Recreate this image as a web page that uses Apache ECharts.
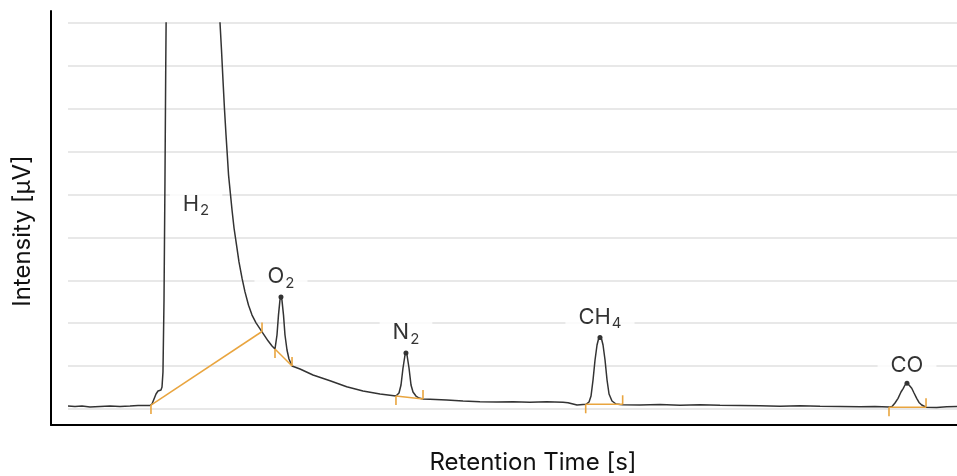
<!DOCTYPE html>
<html>
<head>
<meta charset="utf-8">
<script src="https://cdn.jsdelivr.net/npm/echarts@6/dist/echarts.min.js"></script>
<style>
html, body { margin: 0; padding: 0; background: #fff; }
#chart { width: 957px; height: 476px; }
</style>
</head>
<body>
<div id="chart"></div>
<script>
// 保留时间 [s]
const timeS = [
    0, 0.94, 1.89, 2.97, 4.32, 5.67, 7.02, 8.37, 9.45, 10.39, 11.07,
    11.34, 11.61, 11.88, 12.15, 12.55, 12.69, 12.82, 12.96, 13.09, 13.20, 13.27,
    16.7,
    20.44, 20.52, 20.72, 20.92, 21.13, 21.33, 21.46, 21.67, 21.87, 22.14, 22.41,
    22.75, 23.08, 23.49, 23.89, 24.37, 24.84, 25.38, 25.92, 26.46, 27.00, 27.54, 27.94,
    28.21, 28.41, 28.61, 28.75, 28.88, 29.09, 29.29, 29.56, 29.83, 30.24,
    31.32, 33.07, 35.37, 37.62, 39.82, 42.12, 44.27,
    44.68, 44.95, 45.22, 45.49, 45.62, 45.76, 46.03, 46.30, 46.57, 46.97, 47.38, 47.92,
    48.86, 51.12, 53.32, 55.61, 57.87, 60.07, 62.36, 64.62, 66.82, 67.49, 68.71,
    69.92, 70.33, 70.60, 70.87, 71.14, 71.41, 71.61, 71.81, 72.02, 72.22, 72.49,
    72.76, 73.03, 73.43, 73.97, 74.51, 74.92,
    77.21, 79.91, 82.61, 85.31, 88.01, 90.71, 93.41, 96.11, 98.81, 101.51, 104.21,
    106.91, 108.93, 110.82,
    111.23, 111.63, 112.04, 112.44, 112.75, 112.98, 113.25, 113.52, 113.89, 114.20,
    114.56, 114.87, 115.24, 115.82, 117.26, 118.61, 120.00
];
// 信号强度 [µV]
const intensity = [
    7.0, 5.8, 7.0, 4.7, 5.8, 7.0, 5.8, 7.0, 8.2, 8.2, 8.2,
    11.7, 23.3, 35.0, 42.0, 44.3, 51.3, 86.3, 254, 534, 814, 953,
    4800,
    953, 900, 837, 767, 697, 639, 604, 546, 511, 464, 422,
    382, 343, 305, 273, 242, 219, 201, 187, 173, 159, 147, 140,
    172.5, 219, 254, 261, 254, 219, 172.5, 137.6, 116.6, 100.3,
    93.3, 79.3, 66.0, 52.0, 42.0, 35.0, 30.3,
    37.3, 56.0, 95.6, 125.9, 130.6, 125.9, 95.6, 56.0, 39.6, 30.3, 25.6, 23.3,
    22.6, 21.0, 18.7, 17.0, 16.3, 17.0, 15.6, 17.0, 15.6, 14.7, 9.3,
    11.0, 16.3, 30.3, 67.6, 114.2, 149.2, 163.2, 166.7, 163.2, 149.2, 114.2,
    67.6, 35.0, 18.7, 11.7, 10.5, 10.0,
    9.3, 10.3, 8.6, 10.0, 8.9, 8.4, 7.5, 6.5, 7.5, 6.5, 5.8,
    5.1, 6.1, 4.7,
    5.8, 14.0, 24.9, 39.6, 48.3, 56.0, 59.9, 56.0, 48.3, 37.3,
    24.9, 15.2, 9.3, 4.0, 3.5, 5.4, 5.8
];

// 峰名称和峰顶
const peakNames = ['O2', 'N2', 'CH4', 'CO'];
const peakTimes = [28.75, 45.62, 71.81, 113.25];
const peakHeights = [261, 130.6, 166.7, 59.9];

// H2 峰超出量程，只标注名称
const h2Name = 'H2';
const h2LabelAt = [17.28, 480];

// 积分基线（起点、终点）
const baseStartT = [11.20, 27.94, 44.27, 69.88, 110.82];
const baseStartY = [9.3, 139.9, 30.3, 11.0, 4.2];
const baseEndT = [26.19, 30.24, 47.92, 74.87, 115.82];
const baseEndY = [180.7, 100.3, 23.3, 11.0, 4.2];

const FONT = 'Inter';
const ORANGE = '#e9a53f';

// 数字写成下标
function subscript(name) {
    return name.replace(/([A-Za-z]+)/g, '{a|$1}').replace(/(\d+)/g, '{s|$1}');
}

const peakLabel = {
    show: true,
    formatter: p => subscript(p.name),
    backgroundColor: '#fff',
    padding: [2, 13, 0, 13],
    rich: {
        a: { fontSize: 22, fontFamily: FONT, color: '#000' },
        s: { fontSize: 15, fontFamily: FONT, color: '#000', padding: [13, 0, 0, 1] }
    }
};

let baselineSeries = baseStartT.map((t, i) => ({
    type: 'line',
    xAxisIndex: 1,
    yAxisIndex: 1,
    symbol: 'rect',
    symbolSize: [1.6, 9],
    showSymbol: true,
    z: 4,
    itemStyle: { color: ORANGE },
    lineStyle: { color: ORANGE, width: 1.5 },
    data: [
        { value: [t, baseStartY[i]], symbolOffset: [0, 4.5] },
        { value: [baseEndT[i], baseEndY[i]], symbolOffset: [0, -4.5] }
    ]
}));

let option = {
    animation: false,
    grid: [
        { left: 51, top: 11, right: 0, bottom: 51, outerBoundsMode: 'none' },
        { left: 68, top: 23, right: 0, bottom: 67, outerBoundsMode: 'none' }
    ],
    xAxis: [
        {
            gridIndex: 0, type: 'value', min: 0, max: 1,
            axisLine: { show: true, lineStyle: { color: '#000', width: 2 } },
            axisTick: { show: false }, axisLabel: { show: false }, splitLine: { show: false },
            name: 'Retention Time [s]', nameLocation: 'middle', nameGap: 26,
            nameTextStyle: { fontSize: 24, fontFamily: FONT, color: '#111', padding: [0, 0, 0, 58] }
        },
        {
            gridIndex: 1, type: 'value', min: 0, max: 120, show: false
        }
    ],
    yAxis: [
        {
            gridIndex: 0, type: 'value', min: 0, max: 1,
            axisLine: { show: true, lineStyle: { color: '#000', width: 2 } },
            axisTick: { show: false }, axisLabel: { show: false }, splitLine: { show: false },
            name: 'Intensity [µV]', nameLocation: 'middle', nameGap: 16, nameRotate: 90,
            nameTextStyle: { fontSize: 24, fontFamily: FONT, color: '#111', padding: [0, 26, 0, 0] }
        },
        {
            gridIndex: 1, type: 'value', min: 0, max: 900, interval: 100,
            axisLine: { show: false }, axisTick: { show: false }, axisLabel: { show: false },
            splitLine: { show: true, lineStyle: { color: '#e0e0e0', width: 1.5 } }
        }
    ],
    series: [
        {
            type: 'line',
            xAxisIndex: 1,
            yAxisIndex: 1,
            showSymbol: false,
            z: 3,
            lineStyle: { color: '#333', width: 1.5 },
            data: timeS.map((t, i) => [t, intensity[i]])
        },
        ...baselineSeries,
        {
            type: 'scatter',
            xAxisIndex: 1,
            yAxisIndex: 1,
            symbolSize: 5,
            z: 1,
            itemStyle: { color: '#000' },
            label: Object.assign({ position: 'top', distance: 4 }, peakLabel),
            data: peakNames.map((n, i) => ({ name: n, value: [peakTimes[i], peakHeights[i]] }))
        },
        {
            type: 'scatter',
            xAxisIndex: 1,
            yAxisIndex: 1,
            symbolSize: 0,
            z: 1,
            label: Object.assign({ position: 'inside' }, peakLabel),
            data: [{ name: h2Name, value: h2LabelAt }]
        }
    ]
};

let chart = echarts.init(document.getElementById('chart'));
chart.setOption(option);
</script>
</body>
</html>
